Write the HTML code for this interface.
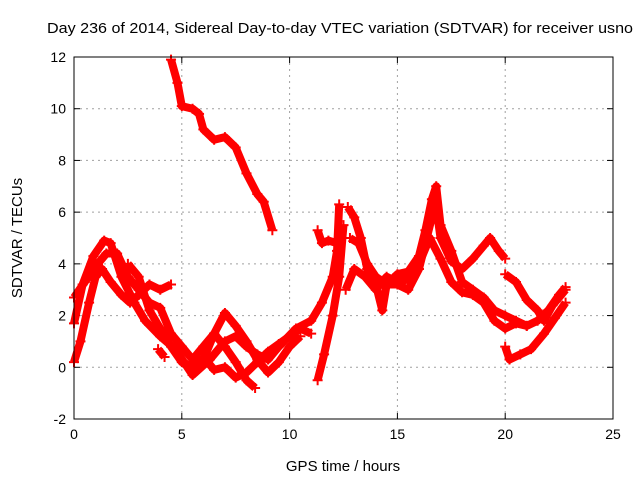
<!DOCTYPE html>
<html><head><meta charset="utf-8"><style>
body{margin:0;background:#fff}
svg{display:block;font-family:"Liberation Sans",sans-serif}
</style></head><body>
<svg id="c" width="640" height="480">
<text x="340" y="33" font-size="15" textLength="586" lengthAdjust="spacingAndGlyphs" text-anchor="middle">Day 236 of 2014, Sidereal Day-to-day VTEC variation (SDTVAR) for receiver usno</text>
<text x="343" y="471" font-size="15" text-anchor="middle">GPS time / hours</text>
<text x="22" y="238" font-size="15" text-anchor="middle" transform="rotate(-90 22 238)">SDTVAR / TECUs</text>
<g id="grid"></g><g id="data"></g>
<rect x="74" y="57" width="539" height="362" fill="none" stroke="#000" stroke-width="1"/>
</svg>
<script>
const xTicks=[0,5,10,15,20,25];
const yTicks=[-2,0,2,4,6,8,10,12];
const trackTop=[[4.5,11.9],[4.8,11],[5.0,10.1],[5.5,10],[5.8,9.8],[6.0,9.2],[6.5,8.8],[7.0,8.9],[7.5,8.5],[8.0,7.5],[8.5,6.7],[8.8,6.4],[9.2,5.3]];
const trackA=[[0,1.7],[0.4,3.2],[0.9,4.3],[1.4,4.9],[1.7,4.8],[2.2,3.5],[2.8,2.5],[3.3,1.8],[4,1.2],[4.7,0.7],[5.5,-0.3],[6.3,0.3],[7,1],[7.5,1.2],[8,0.8],[8.5,0.5],[9,0.3],[9.5,0.8],[10.3,1.5],[11,1.8],[11.5,2.5],[12,3.5],[12.2,4.5],[12.3,6.3]];
const trackB=[[0,2.7],[0.5,3.3],[1,3.9],[1.5,4.4],[2,4.4],[2.5,3.5],[3,3],[3.5,2.5],[4,2.3],[4.5,1.3],[5,0.8],[5.5,0.3],[6,0.8],[6.5,1.3],[7,0.8],[7.5,0.2],[8,-0.5],[8.4,-0.8]];
const trackC=[[0,0.2],[0.3,1],[0.7,2.5],[1,3.5],[1.3,3.8],[1.7,3.3],[2.2,2.8],[2.6,2.5],[3,2.8],[3.5,3.2],[4,3],[4.5,3.2]];
const trackD=[[2.5,4],[3,3.5],[3.5,2.2],[4,1.5],[4.5,0.8],[5,0.2],[5.5,0],[6,0.3],[6.5,1.3],[7,2.1],[7.5,1.6],[8,1],[8.5,0.3],[9,-0.2],[9.5,0.2],[10,0.8],[10.5,1.2]];
const trackE=[[6,0.4],[6.5,-0.1],[7,0],[7.5,-0.4],[8,-0.2],[8.5,0.2],[9,0.6],[9.5,0.9],[10,1.2],[10.5,1.5],[11,1.3]];
const trackF=[[3.9,0.7],[4.2,0.4]];
const trackG=[[11.3,5.3],[11.5,4.8],[11.8,4.9],[12.2,4.8]];
const trackH=[[11.3,-0.5],[11.6,0.5],[12,2],[12.3,3.5],[12.5,5.5]];
const trackI=[[12.7,6.2],[13,5.8],[13.3,5],[13.6,3.8],[14,3.2],[14.3,2.2],[14.5,3.2],[15,3.2],[15.5,3],[16,3.8],[16.3,4.8],[16.6,5.8],[16.8,6.2],[17,5],[17.5,4.1],[18,3.8],[18.5,4.2],[19,4.7],[19.3,5],[19.7,4.5],[20,4.2]];
const trackJ=[[12.8,5],[13.2,4.8],[13.6,4],[14,3.5],[14.5,3.2],[15,3.6],[15.5,3.7],[16,4.3],[16.3,5.3],[16.6,6.5],[16.8,7],[17,5.5],[17.5,4.5],[18,3.3],[18.5,3],[19,2.7],[19.5,2.2],[20,2],[20.5,1.8],[21,1.6],[21.5,1.8],[22,2.2],[22.5,2.8],[22.8,3.1]];
const trackK=[[12.6,3],[13,3.8],[13.5,3.5],[14,3],[14.5,3.5],[15,3.3],[15.5,3.4],[16,4],[16.5,5],[17,4.2],[17.5,3.3],[18,2.9],[18.5,2.8],[19,2.5],[19.5,1.8],[20,1.5],[20.5,1.7],[21,1.6]];
const trackL=[[20,0.8],[20.2,0.3],[20.7,0.5],[21.2,0.7],[21.8,1.3],[22.3,1.9],[22.8,2.5]];
const trackM=[[20,3.6],[20.5,3.3],[21,2.6],[21.5,2.2],[21.8,1.8],[22.2,2.4],[22.8,3]];
const tracks=[trackTop,trackA,trackB,trackC,trackD,trackE,trackF,trackG,trackH,trackI,trackJ,trackK,trackL,trackM];
const X0=74,X1=613,Y0=419,Y1=57;
const xs=v=>X0+(v-0)/25*(X1-X0);
const ys=v=>Y0-(v+2)/14*(Y0-Y1);
const NS="http://www.w3.org/2000/svg";
const grid=document.getElementById('grid'),data=document.getElementById('data');
function mk(t,a,p){const e=document.createElementNS(NS,t);for(const k in a)e.setAttribute(k,a[k]);p.appendChild(e);return e;}
xTicks.forEach(t=>{const x=xs(t);
 if(t>0&&t<25){const l=mk('line',{x1:x,x2:x,y1:Y1,y2:Y0,stroke:'#a0a0a0','stroke-dasharray':'2,4'},grid);
 
 }
 mk('line',{x1:x,x2:x,y1:Y0,y2:Y0-6,stroke:'#000'},grid);mk('line',{x1:x,x2:x,y1:Y1,y2:Y1+6,stroke:'#000'},grid);
 const tx=mk('text',{x:x,y:Y0+20,'font-size':14,'text-anchor':'middle'},grid);tx.textContent=t;
 
 });
yTicks.forEach(t=>{const y=ys(t);
 if(t>-2&&t<12){const l=mk('line',{x1:X0,x2:X1,y1:y,y2:y,stroke:'#a0a0a0','stroke-dasharray':'2,4'},grid);
 
 }
 mk('line',{x1:X0,x2:X0+6,y1:y,y2:y,stroke:'#000'},grid);mk('line',{x1:X1,x2:X1-6,y1:y,y2:y,stroke:'#000'},grid);
 const tx=mk('text',{x:X0-8,y:y+5,'font-size':14,'text-anchor':'end'},grid);tx.textContent=t;
 
 });
tracks.forEach(tr=>{
 const pl=mk('polyline',{points:tr.map(p=>xs(p[0])+','+ys(p[1])).join(' '),fill:'none',stroke:'#ff0000','stroke-width':8,'stroke-linejoin':'round'},data);
 
 
 tr.forEach(p=>{const x=xs(p[0]),y=ys(p[1]);
  const m=mk('path',{d:`M${x-5},${y}h10M${x},${y-5}v10`,stroke:'#ff0000','stroke-width':2},data);
  
  });
});
</script>
</body></html>
